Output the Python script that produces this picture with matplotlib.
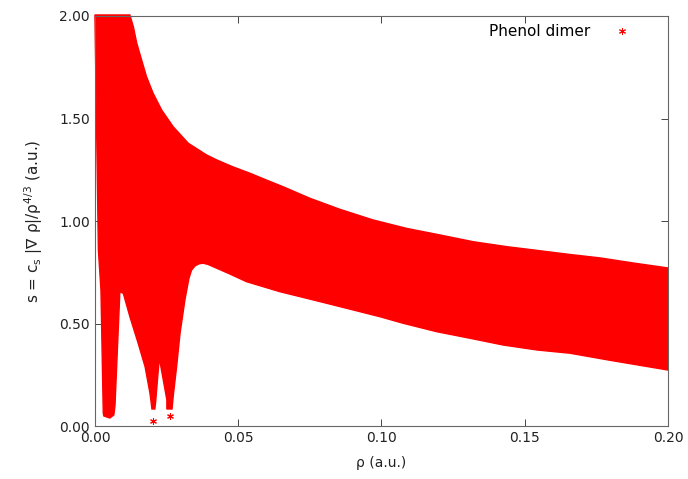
import matplotlib
matplotlib.use("Agg")
import matplotlib.pyplot as plt
import numpy as np

# Envelope of the phenol dimer s(rho) cloud
# upper edge, left to right
top_rho = [0.0, 0.0122, 0.0134, 0.0146, 0.0163, 0.0180, 0.0203, 0.0233, 0.0273,
           0.0326, 0.0390, 0.0425, 0.0480, 0.0541, 0.0600, 0.0657, 0.0750,
           0.0855, 0.0971, 0.1088, 0.1204, 0.1320, 0.1437, 0.1553, 0.1650,
           0.1763, 0.1880, 0.2000]
top_s = [2.005, 2.005, 1.948, 1.867, 1.785, 1.704, 1.623, 1.541, 1.460,
         1.379, 1.322, 1.298, 1.265, 1.233, 1.199, 1.167, 1.111,
         1.057, 1.005, 0.964, 0.932, 0.899, 0.875, 0.855, 0.838,
         0.820, 0.795, 0.771]

# lower edge (with the left side and the three spikes), left to right
low_rho = [0.0, 0.0012, 0.0021, 0.0029, 0.0031, 0.0052, 0.0066, 0.0070, 0.0087,
           0.0099, 0.0122, 0.0151, 0.0175, 0.0192, 0.0198, 0.0199, 0.0209,
           0.0212, 0.0224, 0.0226, 0.0251, 0.0251, 0.0269, 0.0273, 0.0285,
           0.0297, 0.0314, 0.0328, 0.0337, 0.0350, 0.0365, 0.0378, 0.0395,
           0.0413, 0.0470, 0.0529, 0.0646, 0.0762, 0.0879, 0.0995, 0.1076,
           0.1193, 0.1309, 0.1425, 0.1542, 0.1658, 0.1800, 0.2000]
low_s = [2.0, 0.859, 0.663, 0.063, 0.049, 0.039, 0.054, 0.10, 0.655,
         0.647, 0.533, 0.403, 0.289, 0.160, 0.094, 0.083, 0.083,
         0.12, 0.322, 0.322, 0.127, 0.083, 0.083, 0.143, 0.289,
         0.452, 0.615, 0.720, 0.760, 0.782, 0.792, 0.794, 0.788,
         0.777, 0.742, 0.704, 0.655, 0.615, 0.574, 0.533, 0.501,
         0.460, 0.428, 0.395, 0.371, 0.355, 0.320, 0.273]

# stray points below the spikes
stray_rho = [0.0201, 0.0262]
stray_s = [0.026, 0.050]

red = "#ff0000"
plt.rcParams.update({"font.size": 10, "font.family": "DejaVu Sans"})

fig = plt.figure(figsize=(6.88, 4.79), dpi=100)
ax = fig.add_axes([0.138, 0.1106, 0.833, 0.856])

poly_rho = top_rho + low_rho[::-1]
poly_s = top_s + low_s[::-1]
ax.fill(poly_rho, poly_s, color=red, edgecolor=red, linewidth=1.0, clip_on=False, zorder=2)
ax.scatter(stray_rho, stray_s, marker=(6, 2, 0), s=18, color=red, linewidths=0.8, zorder=2)

# legend entry only
ax.plot([], [], linestyle="none", marker=(6, 2, 0), markersize=5, color=red,
        markeredgewidth=0.7, label="Phenol dimer")
ax.legend(loc="upper right", bbox_to_anchor=(0.9506, 0.995), borderaxespad=0,
          frameon=False, markerfirst=False, prop={"size": 11},
          handlelength=1.5, handletextpad=1.35)

ax.set_xlim(0, 0.2)
ax.set_ylim(0, 2.0)
ax.set_xticks([0.0, 0.05, 0.10, 0.15, 0.20])
ax.set_yticks([0.0, 0.5, 1.0, 1.5, 2.0])
ax.xaxis.set_major_formatter(matplotlib.ticker.FormatStrFormatter("%.2f"))
ax.yaxis.set_major_formatter(matplotlib.ticker.FormatStrFormatter("%.2f"))
ax.tick_params(direction="in", top=True, right=True, length=5, width=0.7,
               color="#444444", labelcolor="#222222")
for sp in ax.spines.values():
    sp.set_color("#666666")
    sp.set_linewidth(0.8)

ax.set_xlabel("ρ (a.u.)", color="#222222", labelpad=8)
ax.set_ylabel(r"s = c$_\mathregular{s}$ |∇ ρ|/ρ$^\mathregular{4/3}$ (a.u.)", color="#222222",
              labelpad=10, fontsize=11)

fig.savefig("out.png", dpi=100)
